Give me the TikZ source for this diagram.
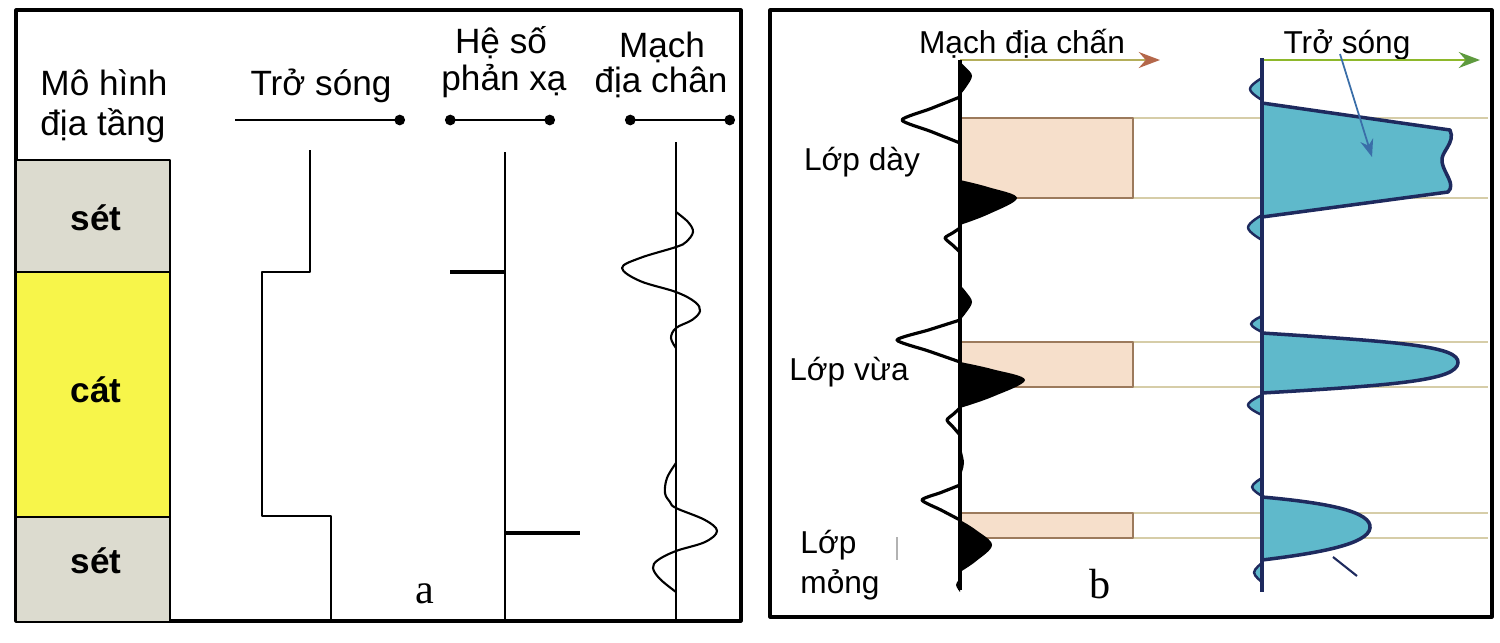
\documentclass[tikz,border=0pt]{standalone}
\usepackage{fontspec}
\setmainfont{Liberation Sans}
\newfontfamily\chuserif{Liberation Serif}
\usetikzlibrary{arrows.meta}
\definecolor{setgray}{HTML}{DCDBCF}
\definecolor{catyellow}{HTML}{F7F54A}
\definecolor{peach}{HTML}{F6DFCB}
\definecolor{peachline}{HTML}{9C7A5C}
\definecolor{songteal}{HTML}{5FB9CB}
\definecolor{darknavy}{HTML}{1E2A5E}
\definecolor{gridline}{HTML}{D6CDA8}
\definecolor{axisolive}{HTML}{B4AE5A}
\definecolor{axisgreen}{HTML}{5E9A3E}
\definecolor{arrowbrown}{HTML}{B4674A}
\definecolor{pointer}{HTML}{3A6EA8}

\begin{document}
\begin{tikzpicture}[x=0.01cm, y=-0.01cm, >=Stealth, line join=round,
  hd/.style={font=\fontsize{10}{12}\selectfont, anchor=base},
  lay/.style={font=\fontsize{10}{12}\selectfont\bfseries, anchor=base},
  hdb/.style={font=\fontsize{9}{11}\selectfont, anchor=base},
  tag/.style={font=\chuserif\fontsize{12}{14}\selectfont, anchor=base},
  dotaxis/.style={line width=0.6pt},
  trace/.style={line width=0.6pt},
  traceb/.style={line width=0.9pt},
  lobe/.style={darknavy, fill=songteal, line width=0.7pt}]
  \useasboundingbox (0,0) rectangle (1500,642);

  % Khung hai hình
  \draw[line width=0.9pt] (16,10) rectangle (741,621);
  \draw[line width=0.9pt] (770,10) rectangle (1492,617);

  % Mô hình địa tầng
  \fill[setgray] (17,160) rectangle (170,272);
  \fill[catyellow] (17,272) rectangle (170,517);
  \fill[setgray] (17,517) rectangle (170,621);
  \draw[line width=0.8pt] (16,160) -- (170,160) -- (170,621);
  \draw[line width=0.8pt] (16,272) -- (170,272);
  \draw[line width=0.8pt] (16,517) -- (170,517);
  \node[hd] (moHinh) at (104,95) {Mô hình};
  \node[hd] (diaTang) at (103,135) {địa tầng};
  \node[lay] (set1) at (96,230) {sét};
  \node[lay] (cat) at (96,402) {cát};
  \node[lay] (set2) at (96,573) {sét};

  % Trở sóng
  \node[hd] (troSongA) at (321,95) {Trở sóng};
  \draw[dotaxis, -{Circle[length=3pt]}] (235,120) -- (405,120);
  \draw[line width=0.7pt] (310,150) -- (310,272) -- (262,272) -- (262,516)
    -- (331,516) -- (331,620);

  % Hệ số phản xạ
  \node[hd] (heSo) at (501,53) {Hệ số};
  \node[hd] (phanXa) at (504,90) {phản xạ};
  \draw[dotaxis, {Circle[length=3pt]}-{Circle[length=3pt]}] (445,120) -- (555,120);
  \draw[line width=0.6pt] (505,152) -- (505,620);
  \draw[line width=0.9pt] (450,272) -- (505,272);
  \draw[line width=0.9pt] (505,533) -- (580,533);

  % Mạch địa chấn
  \node[hd] (mach) at (662,57) {Mạch};
  \node[hd] (diaChan) at (661,92) {địa chân};
  \draw[dotaxis, {Circle[length=3pt]}-{Circle[length=3pt]}] (625,120) -- (735,120);
  \draw[line width=0.6pt] (676,142) -- (676,620);
  \draw[trace] plot[smooth, tension=0.6] coordinates {(676,212) (688,222) (693,232)
    (686,242) (676,247) (640,258) (622,268) (640,281) (676,292) (695,302) (700,311)
    (692,320) (676,328) (671,338) (676,348)};
  \draw[trace] plot[smooth, tension=0.6] coordinates {(676,463) (667,478) (665,493)
    (670,502) (676,508) (705,520) (717,531) (705,542) (676,551) (658,560) (653,568)
    (660,579) (676,592)};
  \node[tag] (tagA) at (425,603) {a};

  % Hình b: lưới ngang
  \foreach \yy in {118,198,342,387,513,538}
    \draw[gridline, line width=0.5pt] (960,\yy) -- (1488,\yy);

  % Các lớp
  \foreach \ya/\yb in {118/198, 342/387, 513/538}
    \draw[peachline, fill=peach, line width=0.8pt] (960,\ya) rectangle (1133,\yb);
  \node[hdb] (lopDay) at (862,170) {Lớp dày};
  \node[hdb] (lopVua) at (849,380) {Lớp vừa};
  \node[hdb, anchor=base west] (lop) at (788,553) {Lớp};
  \node[hdb, anchor=base west] (mong) at (788,593) {mỏng};
  \draw[gray!60, line width=0.5pt] (897,537) -- (897,560);

  % Mạch địa chấn (b)
  \node[hdb] (machB) at (1022,53) {Mạch địa chấn};
  \draw[axisolive, line width=0.8pt, -{Stealth[color=arrowbrown, length=6pt]}]
    (960,60) -- (1160,60);
  \foreach \ya/\yb/\xp/\yp in {62/95/972/76, 180/225/1017/198, 285/320/972/302,
      362/408/1025/380, 445/478/964/463, 520/572/992/545, 578/592/956/585}
    \fill plot[smooth, tension=0.6] coordinates {(960,\ya) ({(960+\xp)/2},{\ya+(\yp-\ya)*0.4})
      (\xp,\yp) ({(960+\xp)/2},{\yp+(\yb-\yp)*0.6}) (960,\yb)} -- cycle;
  \foreach \ya/\yb/\xp/\yp in {97/143/902/120, 228/252/945/238, 320/362/897/340,
      408/435/947/420, 485/520/922/500}
    \draw[traceb] plot[smooth, tension=0.4] coordinates {(960,\ya)
      ({(960+\xp)/2},{\ya+(\yp-\ya)*0.5}) (\xp,\yp) ({(960+\xp)/2},{\yp+(\yb-\yp)*0.5})
      (960,\yb)};
  \draw[line width=1pt] (960,60) -- (960,590);

  % Trở sóng (b)
  \node[hdb] (troSongB) at (1347,53) {Trở sóng};
  \draw[axisgreen!70!yellow, line width=0.8pt, -{Stealth[color=axisgreen, length=6pt]}]
    (1262,60) -- (1480,60);
  \draw[lobe, line width=1pt] (1262,103) -- (1450,130)
    .. controls (1456,143) and (1440,152) .. (1442,162)
    .. controls (1444,174) and (1456,184) .. (1448,192) -- (1262,217) -- cycle;
  \draw[lobe, line width=1pt] (1262,333) .. controls (1400,342) and (1460,346) .. (1458,363)
    .. controls (1456,380) and (1400,385) .. (1262,393) -- cycle;
  \draw[lobe, line width=1pt] (1262,497) .. controls (1330,503) and (1372,512) .. (1370,528)
    .. controls (1368,544) and (1320,553) .. (1262,560) -- cycle;
  \foreach \ya/\yb/\xp in {78/100/1250, 215/240/1248, 316/332/1251, 395/415/1248,
      478/496/1252, 563/582/1254}
    \draw[lobe] plot[smooth, tension=0.7] coordinates {(1262,\ya) (\xp,{(\ya+\yb)/2})
      (1262,\yb)} -- cycle;
  \draw[darknavy, line width=1.3pt] (1262,58) -- (1262,592);
  \draw[pointer, line width=0.5pt, -{Stealth[length=5pt]}] (1340,54) -- (1372,157);
  \draw[darknavy, line width=0.6pt] (1333,557) -- (1357,576);

  \node[tag] (tagB) at (1100,598) {b};
\end{tikzpicture}
\end{document}
